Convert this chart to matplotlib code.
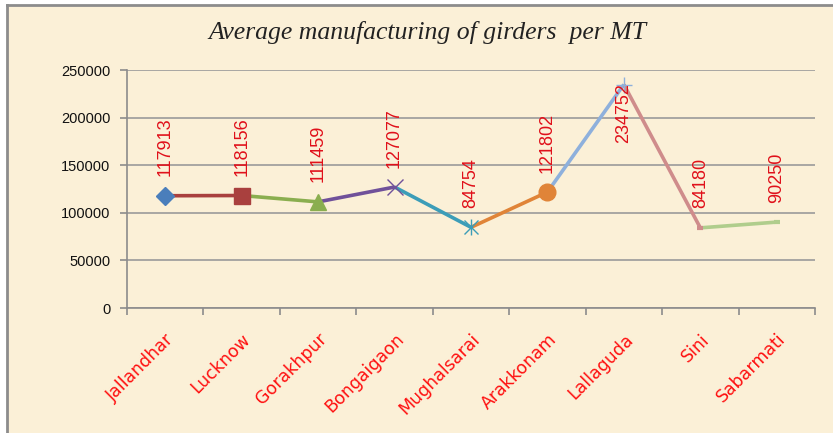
import matplotlib
matplotlib.use('Agg')
import matplotlib.pyplot as plt
from matplotlib.lines import Line2D

plants = ['Jallandhar', 'Lucknow', 'Gorakhpur', 'Bongaigaon', 'Mughalsarai',
          'Arakkonam', 'Lallaguda', 'Sini', 'Sabarmati']
avg_cost = [117913, 118156, 111459, 127077, 84754, 121802, 234752, 84180, 90250]

# one colour / marker per plant, the segment leading into a point uses its colour
seg_colors = ['#4A7EBB', '#A9403E', '#8AAE4F', '#70519A', '#3C9DB8',
              '#E08438', '#8EB0DC', '#CF8C8B', '#B0CD8C']
markers = ['D', 's', '^', 'x', 'star', 'o', '+', '_', '_']

fig = plt.figure(figsize=(8.33, 4.33), dpi=100)
fig.patch.set_facecolor('white')

# parchment panel with grey frame on top/left
bg = plt.Rectangle((7 / 833, -0.1), 1.2, 1 - 5 / 433 + 0.1, transform=fig.transFigure,
                   facecolor='#FBF0D7', edgecolor='none', zorder=-10)
fig.patches.append(bg)
fig.lines.append(Line2D([7 / 833, 7 / 833], [0, 1 - 5 / 433], transform=fig.transFigure,
                        color='#8C8C8C', lw=2))
fig.lines.append(Line2D([7 / 833, 1], [1 - 5 / 433, 1 - 5 / 433], transform=fig.transFigure,
                        color='#8C8C8C', lw=2))

ax = fig.add_axes([127 / 833, 1 - 308 / 433, (815 - 127) / 833, (308 - 70) / 433])
ax.set_facecolor('none')

x = list(range(len(plants)))

for i in range(1, len(plants)):
    ax.plot([x[i - 1], x[i]], [avg_cost[i - 1], avg_cost[i]], color=seg_colors[i],
            lw=2.6, solid_capstyle='butt', zorder=3)

for i, m in enumerate(markers):
    c = seg_colors[i]
    if m == 'star':
        ax.plot(x[i], avg_cost[i], marker='x', ms=10, mew=1, color=c, zorder=4)
        ax.plot(x[i], avg_cost[i], marker='|', ms=12, mew=1, color=c, zorder=4)
    elif m in ('x', '+'):
        ax.plot(x[i], avg_cost[i], marker=m, ms=11, mew=1, color=c, zorder=4)
    elif m == '_':
        ax.plot(x[i], avg_cost[i], marker=m, ms=5, mew=3, color=c, zorder=4)
    else:
        ms = {'D': 9, 's': 11, '^': 12, 'o': 12}[m]
        ax.plot(x[i], avg_cost[i], marker=m, ms=ms, color=c, mec=c, zorder=4)

# value labels, rotated; the peak label goes under its point
for xi, v in zip(x, avg_cost):
    if v > 200000:
        ax.annotate(str(v), (xi, v), xytext=(0, 1), textcoords='offset points',
                    rotation=90, ha='center', va='top', color='#E0101A',
                    fontsize=13, family='Liberation Sans', zorder=5)
    else:
        ax.annotate(str(v), (xi, v), xytext=(0, 14), textcoords='offset points',
                    rotation=90, ha='center', va='bottom', color='#E0101A',
                    fontsize=13, family='Liberation Sans', zorder=5)

ax.set_xlim(-0.5, len(plants) - 0.5)
ax.set_ylim(0, 250000)
ax.set_yticks(range(0, 250001, 50000))
ax.set_yticklabels([str(t) for t in range(0, 250001, 50000)],
                   fontsize=10.5, family='Liberation Sans', color='#111111')
ax.yaxis.grid(True, color='#9A9A9A', lw=1.2)
ax.set_axisbelow(True)

ax.set_xticks([i - 0.5 for i in range(len(plants) + 1)])
ax.set_xticklabels([])
ax.set_xticks(x, minor=True)
ax.set_xticklabels(plants, minor=True, rotation=45, ha='right', va='top',
                   rotation_mode='anchor', fontsize=12.5, family='DejaVu Sans',
                   color='#FF1010')
ax.tick_params(axis='x', which='minor', length=0, pad=16)
ax.tick_params(axis='x', which='major', length=5, width=1.2, color='#8C8C8C')
ax.tick_params(axis='y', length=5, width=1.2, color='#8C8C8C', pad=7)

for s in ('top', 'right'):
    ax.spines[s].set_visible(False)
for s in ('left', 'bottom'):
    ax.spines[s].set_color('#8C8C8C')
    ax.spines[s].set_linewidth(1.2)

fig.text(0.513, 1 - 33 / 433, 'Average manufacturing of girders  per MT',
         ha='center', va='center', fontsize=18.5, style='italic',
         family='Liberation Serif', color='#222222')

fig.savefig('out.png', dpi=100)
